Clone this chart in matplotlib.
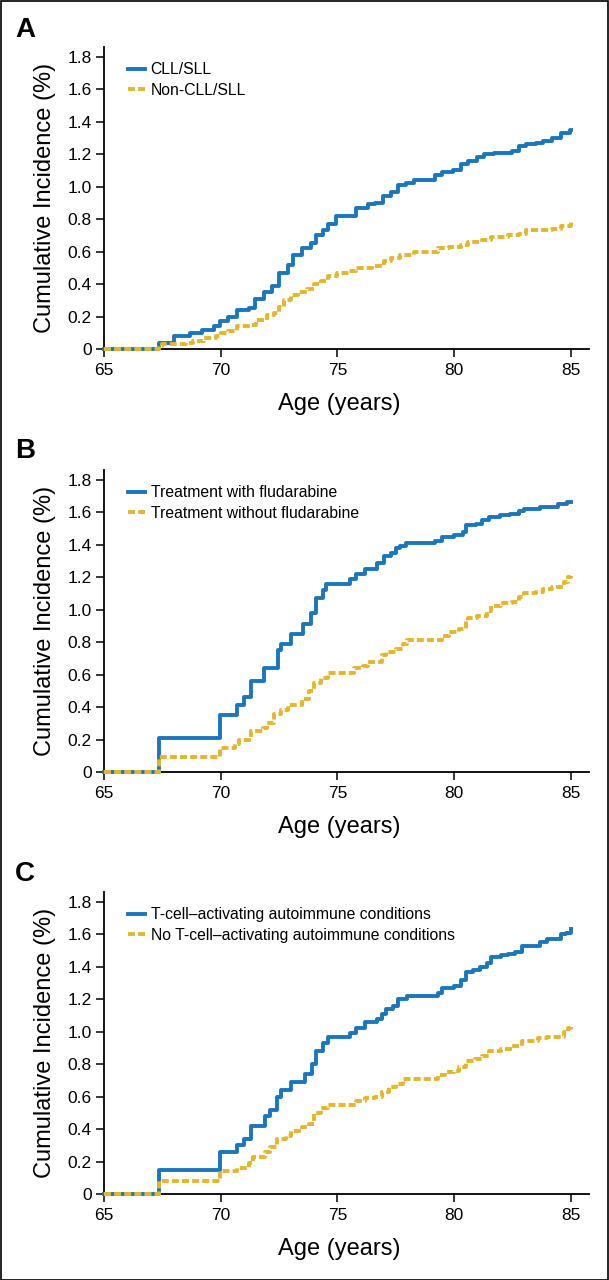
import matplotlib
matplotlib.use('Agg')

import matplotlib.pyplot as plt
from matplotlib.patches import Rectangle

plt.rcParams['font.family'] = ['Liberation Sans', 'DejaVu Sans']

# panel A: CLL/SLL vs non-CLL/SLL
age_a1 = [65, 67.37, 68.0, 68.7, 69.2, 69.7, 69.95, 70.3, 70.7, 71.2, 71.45, 71.87, 72.2, 72.5,
          72.87, 73.1, 73.5, 73.87, 74.1, 74.4, 74.6, 74.95, 75.45, 75.8, 76.3, 76.6, 76.95,
          77.3, 77.6, 77.95, 78.3, 79.2, 79.5, 79.95, 80.3, 80.6, 81.0, 81.3, 81.7, 82.5, 82.8,
          83.1, 83.5, 83.8, 84.2, 84.6, 84.95, 85.0]
inc_a1 = [0, 0.04, 0.08, 0.10, 0.12, 0.14, 0.17, 0.20, 0.24, 0.25, 0.31, 0.35, 0.39, 0.47,
          0.52, 0.58, 0.62, 0.65, 0.70, 0.73, 0.77, 0.82, 0.82, 0.87, 0.89, 0.90, 0.94,
          0.97, 1.01, 1.02, 1.04, 1.07, 1.09, 1.10, 1.14, 1.16, 1.18, 1.20, 1.21, 1.22, 1.25,
          1.26, 1.27, 1.28, 1.30, 1.33, 1.35, 1.35]
age_a2 = [65, 67.37, 67.5, 68.5, 68.8, 69.3, 69.8, 70.0, 70.3, 70.7, 71.3, 71.5, 72.0, 72.3,
          72.5, 72.7, 73.0, 73.3, 73.7, 74.0, 74.3, 74.6, 75.0, 75.5, 75.8, 76.5, 77.0, 77.3,
          77.7, 78.3, 79.3, 79.8, 80.3, 80.6, 81.2, 81.6, 82.3, 82.8, 83.1, 84.2, 84.6, 85.0]
inc_a2 = [0, 0.02, 0.03, 0.04, 0.05, 0.07, 0.08, 0.10, 0.11, 0.14, 0.15, 0.18, 0.21, 0.22,
          0.26, 0.30, 0.33, 0.35, 0.37, 0.40, 0.42, 0.45, 0.47, 0.48, 0.50, 0.51, 0.54, 0.56,
          0.58, 0.60, 0.62, 0.63, 0.64, 0.66, 0.67, 0.69, 0.70, 0.71, 0.73, 0.74, 0.76, 0.78]

# panel B: with vs without fludarabine
age_b1 = [65, 67.37, 69.95, 70.7, 71.0, 71.3, 71.87, 72.45, 72.6, 73.03, 73.53, 73.87, 74.1,
          74.37, 74.53, 75.53, 75.78, 76.2, 76.7, 77.0, 77.3, 77.5, 77.7, 77.95, 79.2, 79.5,
          80.0, 80.4, 80.5, 80.95, 81.2, 81.5, 81.95, 82.4, 82.8, 83.0, 83.7, 84.45, 84.85, 85.0]
inc_b1 = [0, 0.21, 0.35, 0.41, 0.46, 0.56, 0.64, 0.75, 0.79, 0.85, 0.91, 0.98, 1.07,
          1.12, 1.16, 1.19, 1.22, 1.25, 1.29, 1.33, 1.35, 1.38, 1.39, 1.41, 1.42, 1.45,
          1.46, 1.48, 1.52, 1.53, 1.55, 1.57, 1.58, 1.59, 1.61, 1.62, 1.63, 1.65, 1.66, 1.66]
age_b2 = [65, 67.37, 69.95, 70.6, 70.8, 71.3, 71.8, 72.0, 72.3, 72.6, 72.9, 73.5, 73.8, 74.0,
          74.3, 74.6, 75.5, 75.7, 76.1, 76.3, 76.9, 77.1, 77.5, 77.8, 78.0, 79.2, 79.5, 79.8,
          80.2, 80.5, 80.6, 81.0, 81.4, 81.6, 82.0, 82.5, 82.8, 83.0, 83.5, 83.8, 84.2, 84.7,
          84.9, 85.0]
inc_b2 = [0, 0.09, 0.15, 0.17, 0.20, 0.25, 0.27, 0.30, 0.36, 0.38, 0.41, 0.45, 0.50, 0.55,
          0.58, 0.61, 0.61, 0.64, 0.65, 0.68, 0.72, 0.74, 0.76, 0.79, 0.81, 0.81, 0.84, 0.86,
          0.88, 0.93, 0.95, 0.96, 0.99, 1.02, 1.04, 1.05, 1.08, 1.10, 1.11, 1.13, 1.14, 1.17,
          1.20, 1.21]

# panel C: T-cell-activating autoimmune conditions or not
age_c1 = [65, 67.37, 69.95, 70.7, 71.0, 71.3, 71.9, 72.1, 72.4, 72.6, 73.0, 73.6, 73.9, 74.1,
          74.4, 74.6, 75.55, 75.8, 76.2, 76.7, 76.9, 77.1, 77.4, 77.6, 78.0, 79.3, 79.5, 80.0,
          80.3, 80.5, 80.8, 81.1, 81.4, 81.6, 82.0, 82.3, 82.6, 82.9, 83.7, 84.0, 84.6, 84.8,
          85.0]
inc_c1 = [0, 0.15, 0.26, 0.30, 0.34, 0.42, 0.48, 0.52, 0.60, 0.64, 0.69, 0.74, 0.80, 0.88,
          0.93, 0.97, 0.99, 1.02, 1.06, 1.08, 1.11, 1.14, 1.16, 1.20, 1.22, 1.24, 1.27, 1.28,
          1.32, 1.37, 1.38, 1.40, 1.42, 1.46, 1.47, 1.48, 1.49, 1.53, 1.55, 1.57, 1.60, 1.61,
          1.63]
age_c2 = [65, 67.37, 69.95, 70.7, 71.2, 71.4, 71.9, 72.1, 72.4, 72.8, 73.0, 73.5, 73.8, 74.0,
          74.3, 74.6, 75.8, 76.2, 76.6, 76.9, 77.2, 77.5, 77.8, 79.3, 79.6, 80.0, 80.2, 80.5,
          80.9, 81.2, 81.5, 82.0, 82.5, 82.9, 83.6, 84.0, 84.7, 84.9, 85.0]
inc_c2 = [0, 0.08, 0.14, 0.16, 0.19, 0.23, 0.26, 0.29, 0.34, 0.36, 0.39, 0.41, 0.43, 0.50,
          0.53, 0.55, 0.57, 0.59, 0.60, 0.63, 0.66, 0.68, 0.71, 0.73, 0.75, 0.76, 0.78, 0.82,
          0.83, 0.85, 0.88, 0.89, 0.91, 0.94, 0.96, 0.97, 1.00, 1.02, 1.03]

panels = [
    ('A', age_a1, inc_a1, 'CLL/SLL', age_a2, inc_a2, 'Non-CLL/SLL'),
    ('B', age_b1, inc_b1, 'Treatment with fludarabine',
     age_b2, inc_b2, 'Treatment without fludarabine'),
    ('C', age_c1, inc_c1, 'T-cell\u2013activating autoimmune conditions',
     age_c2, inc_c2, 'No T-cell\u2013activating autoimmune conditions'),
]
yticks = [0, 0.2, 0.4, 0.6, 0.8, 1.0, 1.2, 1.4, 1.6, 1.8]
ytick_labels = ['0', '0.2', '0.4', '0.6', '0.8', '1.0', '1.2', '1.4', '1.6', '1.8']
xticks = [65, 70, 75, 80, 85]

blue = '#1b76bc'
gold = '#e4b630'

W, H = 609, 1280
fig = plt.figure(figsize=(W / 100, H / 100), dpi=100)

# pixel rows of the x axis for each panel, and the letter baselines
axis_bottom = [349, 772, 1194]
letter_base = [37, 458, 881]

for i, (letter, x1, y1, lab1, x2, y2, lab2) in enumerate(panels):
    bot = axis_bottom[i]
    ax = fig.add_axes([104 / W, (H - bot) / H, 485 / W, 302 / H])
    ax.step(x1, y1, where='post', color=blue, lw=2.8, label=lab1, clip_on=False, zorder=3)
    ax.step(x2, y2, where='post', color=gold, lw=2.8, dashes=(1.8, 0.8), label=lab2,
            clip_on=False, zorder=4)
    ax.set_xlim(65, 85.78)
    ax.set_ylim(0, 1.86)
    ax.set_xticks(xticks)
    ax.set_yticks(yticks)
    ax.set_yticklabels(ytick_labels)
    for s in ['top', 'right']:
        ax.spines[s].set_visible(False)
    for s in ['left', 'bottom']:
        ax.spines[s].set_linewidth(1.3)
    ax.tick_params(direction='out', length=6, width=1.1, labelsize=12.5, pad=3)
    ax.tick_params(axis='x', pad=4)
    ax.set_xlabel('Age (years)', fontsize=17)
    ax.xaxis.set_label_coords(0.485, -0.145)
    ax.set_ylabel('Cumulative Incidence (%)', fontsize=17)
    ax.yaxis.set_label_coords(-0.1, 0.5)
    ax.legend(loc='upper left', bbox_to_anchor=(0.03, 0.98), frameon=False, fontsize=11.3,
              handlelength=1.1, handletextpad=0.35, labelspacing=0.35, borderpad=0.3,
              borderaxespad=0.3)
    fig.text(15 / W, 1 - letter_base[i] / H, letter, fontsize=20, fontweight='bold',
             va='baseline', ha='left')

fig.add_artist(Rectangle((0.5 / W, 0.5 / H), 1 - 1.5 / W, 1 - 1.5 / H, transform=fig.transFigure,
                         fill=False, edgecolor='black', lw=1.2))

fig.savefig('out.png', dpi=100)
